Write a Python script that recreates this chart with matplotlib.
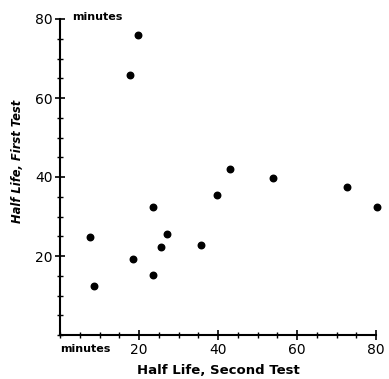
import matplotlib
matplotlib.use("Agg")
import matplotlib.pyplot as plt
from matplotlib.ticker import MultipleLocator

second_test = [7.6, 8.7, 17.7, 19.7, 18.6, 23.6, 23.5, 25.5, 27.0, 35.6, 39.8, 43.0, 53.8, 72.6, 80.2]
first_test = [24.9, 12.4, 65.8, 75.9, 19.2, 32.4, 15.2, 22.4, 25.5, 22.9, 35.4, 42.0, 39.8, 37.4, 32.5]
x_ticks = [20, 40, 60, 80]
y_ticks = [20, 40, 60, 80]

fig = plt.figure(figsize=(3.89, 3.79), dpi=100)
ax = fig.add_axes([60/389, 1-335/379, 316/389, 316/379])
ax.scatter(second_test, first_test, s=22, color="black", zorder=3, clip_on=False)
ax.set_xlim(0, 80)
ax.set_ylim(0, 80)
for s in ["top", "right"]:
    ax.spines[s].set_visible(False)
for s in ["left", "bottom"]:
    ax.spines[s].set_linewidth(1.5)
ax.set_xticks(x_ticks)
ax.set_yticks(y_ticks)
ax.xaxis.set_minor_locator(MultipleLocator(5))
ax.yaxis.set_minor_locator(MultipleLocator(5))
ax.tick_params(which="major", direction="inout", length=7, width=1.2, labelsize=10, pad=2)
ax.tick_params(which="minor", direction="inout", length=4, width=1.0)
ax.set_xlabel("Half Life, Second Test", fontsize=9.5, fontweight="bold", labelpad=5)
ax.set_ylabel("Half Life, First Test", fontsize=8.3, fontweight="bold", style="italic", labelpad=9)
ax.yaxis.set_label_coords(-0.115, 0.55)
fig.text(60/389, 1-349/379, "minutes", fontsize=8, fontweight="bold", ha="left", va="center")
fig.text(72/389, 1-17/379, "minutes", fontsize=8, fontweight="bold", ha="left", va="center")
fig.savefig("out.png", dpi=100)
